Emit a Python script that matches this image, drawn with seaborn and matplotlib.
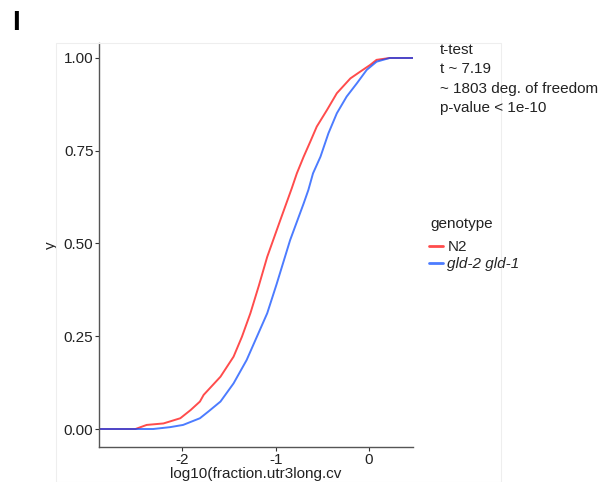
import matplotlib
matplotlib.use("Agg")
import matplotlib.pyplot as plt
import seaborn as sns
import pandas as pd
from matplotlib.lines import Line2D
from matplotlib.patches import Rectangle

# ---- data ----
genotypes = ["N2", "gld-2 gld-1"]
n2_x = [-2.89, -2.50, -2.38, -2.20, -2.02, -1.91, -1.81, -1.77, -1.59, -1.45, -1.36, -1.27,
        -1.18, -1.09, -0.95, -0.827, -0.773, -0.70, -0.63, -0.56, -0.45, -0.345, -0.20,
        -0.096, 0.01, 0.08, 0.22, 0.47]
n2_y = [0.0, 0.0, 0.011, 0.015, 0.029, 0.051, 0.074, 0.092, 0.141, 0.195, 0.249, 0.312,
        0.386, 0.464, 0.563, 0.649, 0.689, 0.734, 0.774, 0.815, 0.860, 0.905, 0.945,
        0.963, 0.981, 0.995, 1.0, 1.0]
gld_x = [-2.89, -2.31, -2.13, -1.99, -1.81, -1.72, -1.59, -1.45, -1.31, -1.20, -1.09, -0.99,
         -0.845, -0.70, -0.65, -0.60, -0.52, -0.435, -0.345, -0.24, -0.13, -0.025, 0.08,
         0.22, 0.47]
gld_y = [0.0, 0.0, 0.005, 0.011, 0.029, 0.047, 0.074, 0.123, 0.186, 0.249, 0.312, 0.39,
         0.509, 0.608, 0.644, 0.689, 0.734, 0.797, 0.851, 0.896, 0.932, 0.968, 0.99,
         1.0, 1.0]
y_ticks = [0.00, 0.25, 0.50, 0.75, 1.00]
y_ticklabels = ["0.00", "0.25", "0.50", "0.75", "1.00"]
x_ticks = [-2, -1, 0]
x_ticklabels = ["-2", "-1", "0"]
stats_lines = ["t-test", "t ~ 7.19", "~ 1803 deg. of freedom", "p-value < 1e-10"]

df = pd.concat([
    pd.DataFrame({"x": n2_x, "y": n2_y, "genotype": genotypes[0]}),
    pd.DataFrame({"x": gld_x, "y": gld_y, "genotype": genotypes[1]}),
], ignore_index=True)

sns.set_theme(style="white")
plt.rcParams["font.family"] = ["Liberation Sans", "DejaVu Sans"]

W, H = 606, 482
fig = plt.figure(figsize=(W / 100, H / 100), dpi=100)
ax = fig.add_axes([99 / W, 1 - 447 / H, (413 - 99) / W, (447 - 43) / H])

palette = {genotypes[0]: "#FF0000", genotypes[1]: "#0044FF"}
sns.lineplot(data=df, x="x", y="y", hue="genotype", palette=palette, ax=ax,
             estimator=None, sort=False, linewidth=1.4, alpha=0.7, legend=False)

ax.set_xlim(-2.89, 0.47)
ax.set_ylim(-0.0485, 1.0404)
ax.set_yticks(y_ticks)
ax.set_yticklabels(y_ticklabels)
ax.set_xticks(x_ticks)
ax.set_xticklabels(x_ticklabels)
ax.tick_params(axis="both", which="both", length=3, width=0.8, color="#333333",
               labelsize=11, labelcolor="#222222", pad=1, left=True, bottom=True)
for s in ["top", "right"]:
    ax.spines[s].set_visible(False)
for s in ["left", "bottom"]:
    ax.spines[s].set_color("#555555")
    ax.spines[s].set_linewidth(1.0)
ax.set_xlabel("log10(fraction.utr3long.cv", fontsize=11, color="#222222", labelpad=0)
ax.set_ylabel("y", fontsize=11, color="#222222", labelpad=4)
ax.grid(False)

# faint outer panel box
fig.add_artist(Rectangle((56 / W, 0), (501 - 56) / W, 1 - 43 / H, transform=fig.transFigure,
                         fill=False, edgecolor="#eeeeee", linewidth=0.8))

# panel letter
fig.text(12 / W, 1 - 10 / H, "I", fontsize=20, fontweight="bold", va="top", ha="left",
         color="black")

# stats text
for i, line in enumerate(stats_lines):
    fig.text(440 / W, 1 - (50 + i * 19.3) / H, line, fontsize=11, va="center", ha="left",
             color="#222222")

# legend (title drawn separately to match spacing)
fig.text(430 / W, 1 - 224 / H, "genotype", fontsize=11, va="center", ha="left",
         color="#222222")
handles = [Line2D([0], [0], color=palette[g], alpha=0.7, lw=2) for g in genotypes]
leg = fig.legend(handles, genotypes, loc="upper left",
                 bbox_to_anchor=(423 / W, 1 - 234 / H), frameon=False, fontsize=11,
                 handlelength=0.9, handletextpad=0.3,
                 labelspacing=0.2, borderaxespad=0)
leg.get_texts()[1].set_fontstyle("italic")

fig.savefig("out.png", dpi=100)
